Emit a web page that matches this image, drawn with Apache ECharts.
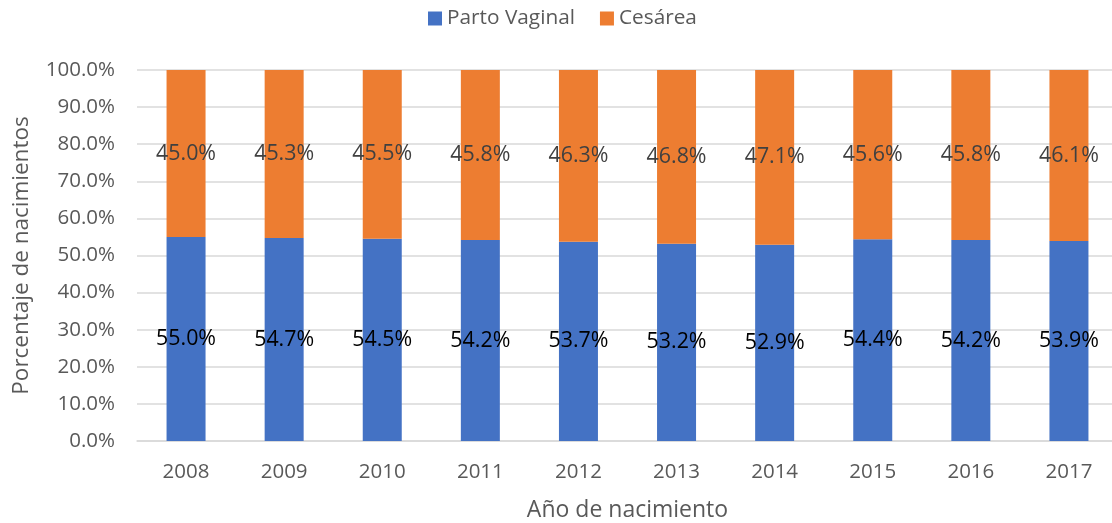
<!DOCTYPE html>
<html>
<head>
<meta charset="utf-8">
<script src="https://cdn.jsdelivr.net/npm/echarts@6/dist/echarts.min.js"></script>
<style>
  html, body { margin: 0; padding: 0; background: #fff; }
  #chart { width: 1112px; height: 523px; }
</style>
</head>
<body>
<div id="chart"></div>
<script>
const years = ['2008', '2009', '2010', '2011', '2012', '2013', '2014', '2015', '2016', '2017'];
const vaginal = [55.0, 54.7, 54.5, 54.2, 53.7, 53.2, 52.9, 54.4, 54.2, 53.9];
const cesarea = [45.0, 45.3, 45.5, 45.8, 46.3, 46.8, 47.1, 45.6, 45.8, 46.1];

const font = 'Open Sans';

const chart = echarts.init(document.getElementById('chart'), null, { renderer: 'canvas' });

chart.setOption({
  animation: false,
  textStyle: { fontFamily: font },
  legend: {
    top: 3,
    left: 423,
    itemWidth: 14,
    itemHeight: 14,
    itemGap: 25,
    itemTextGap: 6,
    icon: 'rect',
    textStyle: { fontSize: 20.8, color: '#595959', fontFamily: font },
    data: ['Parto Vaginal', 'Cesárea'],
  },
  grid: { left: 137, top: 70, width: 981, height: 371, outerBoundsMode: 'none' },
  xAxis: {
    type: 'category',
    data: years,
    name: 'Año de nacimiento',
    nameLocation: 'middle',
    nameGap: 58,
    nameTextStyle: { fontSize: 23, color: '#595959', fontFamily: font },
    axisLine: { lineStyle: { color: '#d9d9d9', width: 1.5 } },
    axisTick: { show: false },
    axisLabel: { fontSize: 20.5, color: '#595959', margin: 21, fontFamily: font },
  },
  yAxis: {
    type: 'value',
    min: 0,
    max: 100,
    interval: 10,
    name: 'Porcentaje de nacimientos',
    nameLocation: 'middle',
    nameGap: 104,
    nameTextStyle: { fontSize: 22.5, color: '#595959', fontFamily: font },
    axisLine: { show: false },
    axisTick: { show: false },
    splitLine: { lineStyle: { color: '#d9d9d9', width: 1.5 } },
    axisLabel: {
      fontSize: 20.5,
      color: '#595959',
      margin: 22,
      fontFamily: font,
      formatter: (v) => v.toFixed(1) + '%',
    },
  },
  series: [
    {
      name: 'Parto Vaginal',
      type: 'bar',
      stack: 'total',
      barWidth: 39,
      data: vaginal,
      itemStyle: { color: '#4472c4' },
      label: {
        show: true,
        position: 'inside',
        color: '#000',
        fontSize: 21.4,
        fontFamily: font,
        formatter: (p) => p.value.toFixed(1) + '%',
      },
    },
    {
      name: 'Cesárea',
      type: 'bar',
      stack: 'total',
      barWidth: 39,
      data: cesarea,
      itemStyle: { color: '#ed7d31' },
      label: {
        show: true,
        position: 'inside',
        color: '#404040',
        fontSize: 21.4,
        fontFamily: font,
        formatter: (p) => p.value.toFixed(1) + '%',
      },
    },
  ],
});
</script>
</body>
</html>
